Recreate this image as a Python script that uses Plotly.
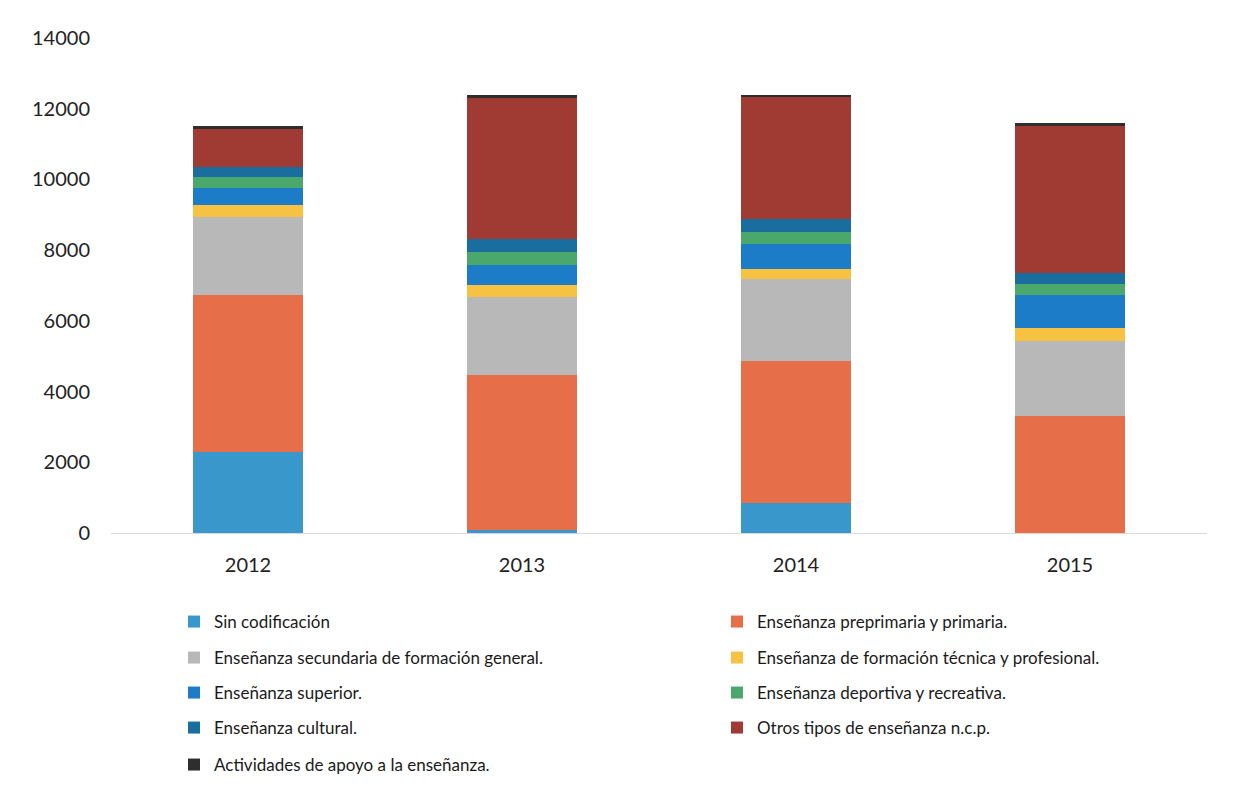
import plotly.graph_objects as go

years = ["2012", "2013", "2014", "2015"]

series_names = [
    "Sin codificación",
    "Enseñanza preprimaria y primaria.",
    "Enseñanza secundaria de formación general.",
    "Enseñanza de formación técnica y profesional.",
    "Enseñanza superior.",
    "Enseñanza deportiva y recreativa.",
    "Enseñanza cultural.",
    "Otros tipos de enseñanza n.c.p.",
    "Actividades de apoyo a la enseñanza.",
]

sin_codificacion = [2280, 90, 860, 0]
preprimaria_primaria = [4450, 4380, 4010, 3310]
secundaria_general = [2210, 2210, 2320, 2120]
tecnica_profesional = [350, 330, 280, 370]
superior = [480, 580, 710, 940]
deportiva_recreativa = [300, 350, 320, 300]
cultural = [270, 370, 380, 300]
otros_ncp = [1100, 4000, 3450, 4165]
apoyo = [60, 70, 70, 90]

values = [sin_codificacion, preprimaria_primaria, secundaria_general,
          tecnica_profesional, superior, deportiva_recreativa, cultural,
          otros_ncp, apoyo]

colors = ["#3A97CB", "#E66F4A", "#B8B8B8", "#F7C142", "#1C7CC8",
          "#4BA86C", "#196E9F", "#9F3B33", "#2E2E2E"]

y_ticks = [0, 2000, 4000, 6000, 8000, 10000, 12000, 14000]

FONT = "Lato, 'Open Sans', sans-serif"

W, H = 1234, 799
ml, mr, mt, mb = 111, 27, 38, 266
plot_w = W - ml - mr
plot_h = H - mt - mb

legend_ids = ["legend"] + ["legend%d" % k for k in range(2, 10)]
row_px = [622, 658, 693, 728, 765]
col_px = [174, 717]

fig = go.Figure()
layout_legends = {}
for i, (name, vals, col) in enumerate(zip(series_names, values, colors)):
    lid = legend_ids[i]
    fig.add_trace(go.Bar(
        x=years, y=vals, name=name,
        marker=dict(color=col, line=dict(width=0)),
        legend=lid,
    ))
    px_x = col_px[i % 2]
    px_y = row_px[i // 2]
    layout_legends[lid] = dict(
        orientation="v", xanchor="left", yanchor="middle",
        x=(px_x - ml) / plot_w, y=(mt + plot_h - px_y) / plot_h,
        font=dict(family=FONT, size=17, color="#1a1a1a"),
        bgcolor="rgba(0,0,0,0)", itemclick=False, itemdoubleclick=False,
    )

fig.update_layout(
    width=W, height=H,
    margin=dict(l=ml, r=mr, t=mt, b=mb, pad=0),
    barmode="stack",
    bargap=0.6,
    plot_bgcolor="white",
    paper_bgcolor="white",
    showlegend=True,
    font=dict(family=FONT, size=20, color="#222222"),
    xaxis=dict(
        showline=True, linecolor="#D9D9D9", linewidth=1,
        showgrid=False, ticks="", ticklabelstandoff=14,
        tickfont=dict(family=FONT, size=20, color="#222222"),
    ),
    yaxis=dict(
        range=[0, 14000], tickvals=y_ticks,
        ticktext=[str(v) for v in y_ticks],
        showgrid=False, zeroline=False, showline=False, ticks="",
        ticklabelstandoff=20,
        tickfont=dict(family=FONT, size=20, color="#222222"),
    ),
    **layout_legends,
)

fig.write_html("out.html")
